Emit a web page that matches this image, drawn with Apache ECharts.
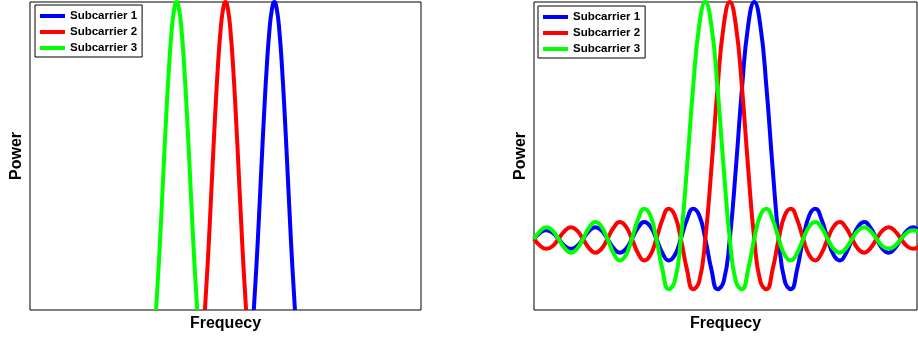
<!DOCTYPE html>
<html>
<head>
<meta charset="utf-8">
<script src="https://cdn.jsdelivr.net/npm/echarts@6/dist/echarts.min.js"></script>
<style>
  html, body { margin: 0; padding: 0; background: #fff; }
  #chart { width: 918px; height: 340px; }
</style>
</head>
<body>
<div id="chart"></div>
<script>
// Left panel: separated subcarriers (main lobes only)
const leftFreq1 = [10.875, 11, 11.125, 11.25, 11.375, 11.5, 11.625, 11.75, 11.875, 12, 12.125, 12.25, 12.375, 12.5, 12.625, 12.75, 12.875];
const leftFreq2 = [8.5, 8.625, 8.75, 8.875, 9, 9.125, 9.25, 9.375, 9.5, 9.625, 9.75, 9.875, 10, 10.125, 10.25, 10.375, 10.5];
const leftFreq3 = [6.125, 6.25, 6.375, 6.5, 6.625, 6.75, 6.875, 7, 7.125, 7.25, 7.375, 7.5, 7.625, 7.75, 7.875, 8, 8.125];
const leftPower1 = [0, 0.139, 0.300, 0.471, 0.637, 0.784, 0.900, 0.974, 1, 0.974, 0.900, 0.784, 0.637, 0.471, 0.300, 0.139, 0];
const leftPower2 = [0, 0.139, 0.300, 0.471, 0.637, 0.784, 0.900, 0.974, 1, 0.974, 0.900, 0.784, 0.637, 0.471, 0.300, 0.139, 0];
const leftPower3 = [0, 0.139, 0.300, 0.471, 0.637, 0.784, 0.900, 0.974, 1, 0.974, 0.900, 0.784, 0.637, 0.471, 0.300, 0.139, 0];

// Right panel: overlapping (orthogonal) subcarriers with side lobes
const rightFreq = [0, 0.25, 0.5, 0.75, 1, 1.25, 1.5, 1.75, 2, 2.25, 2.5, 2.75, 3, 3.25, 3.5, 3.75,
  4, 4.25, 4.5, 4.75, 5, 5.25, 5.5, 5.75, 6, 6.25, 6.5, 6.75, 7, 7.25, 7.5, 7.75,
  8, 8.25, 8.5, 8.75, 9, 9.25, 9.5, 9.75, 10, 10.25, 10.5, 10.75, 11, 11.25, 11.5, 11.75,
  12, 12.25, 12.5, 12.75, 13, 13.25, 13.5, 13.75, 14, 14.25, 14.5, 14.75, 15, 15.25, 15.5, 15.75];
const rightPower1 = [0, 0.026, 0.037, 0.027, 0, -0.029, -0.042, -0.031, 0, 0.033, 0.049, 0.036,
  0, -0.039, -0.058, -0.043, 0, 0.047, 0.071, 0.053, 0, -0.060, -0.091, -0.069,
  0, 0.082, 0.127, 0.100, 0, -0.129, -0.212, -0.180, 0, 0.300, 0.637, 0.900, 1,
  0.900, 0.637, 0.300, 0, -0.180, -0.212, -0.129, 0, 0.100, 0.127, 0.082,
  0, -0.069, -0.091, -0.060, 0, 0.053, 0.071, 0.047, 0, -0.043, -0.058, -0.039,
  0, 0.036, 0.049, 0.033];
const rightPower2 = [0, -0.029, -0.042, -0.031, 0, 0.033, 0.049, 0.036, 0, -0.039, -0.058, -0.043,
  0, 0.047, 0.071, 0.053, 0, -0.060, -0.091, -0.069, 0, 0.082, 0.127, 0.100,
  0, -0.129, -0.212, -0.180, 0, 0.300, 0.637, 0.900, 1,
  0.900, 0.637, 0.300, 0, -0.180, -0.212, -0.129, 0, 0.100, 0.127, 0.082,
  0, -0.069, -0.091, -0.060, 0, 0.053, 0.071, 0.047, 0, -0.043, -0.058, -0.039,
  0, 0.036, 0.049, 0.033, 0, -0.031, -0.042, -0.029];
const rightPower3 = [0, 0.033, 0.049, 0.036, 0, -0.039, -0.058, -0.043, 0, 0.047, 0.071, 0.053,
  0, -0.060, -0.091, -0.069, 0, 0.082, 0.127, 0.100, 0, -0.129, -0.212, -0.180,
  0, 0.300, 0.637, 0.900, 1,
  0.900, 0.637, 0.300, 0, -0.180, -0.212, -0.129, 0, 0.100, 0.127, 0.082,
  0, -0.069, -0.091, -0.060, 0, 0.053, 0.071, 0.047, 0, -0.043, -0.058, -0.039,
  0, 0.036, 0.049, 0.033, 0, -0.031, -0.042, -0.029, 0, 0.027, 0.037, 0.026];

const seriesNames = ['Subcarrier 1', 'Subcarrier 2', 'Subcarrier 3'];
const seriesColors = ['#0000ff', '#ff0000', '#00ff00'];
const xLabel = 'Frequecy';
const yLabel = 'Power';

const FONT = '"Liberation Sans", Arial, Helvetica, sans-serif';

function pairs(xs, ys) {
  return xs.map((x, i) => [x, ys[i]]);
}

function lineSeries(name, color, gridIdx, data) {
  return {
    type: 'line',
    name: name,
    xAxisIndex: gridIdx,
    yAxisIndex: gridIdx,
    data: data,
    smooth: true,
    showSymbol: false,
    symbol: 'none',
    clip: true,
    animation: false,
    itemStyle: { color: color },
    lineStyle: { color: color, width: 4 }
  };
}

function xAxisFor(gridIdx, max) {
  return {
    type: 'value', gridIndex: gridIdx, min: 0, max: max,
    axisLine: { show: false }, axisTick: { show: false },
    axisLabel: { show: false }, splitLine: { show: false },
    name: xLabel, nameLocation: 'middle', nameGap: 6,
    nameTextStyle: { fontFamily: FONT, fontWeight: 'bold', fontSize: 16, color: '#000' }
  };
}

function yAxisFor(gridIdx, min, max) {
  return {
    type: 'value', gridIndex: gridIdx, min: min, max: max,
    axisLine: { show: false }, axisTick: { show: false },
    axisLabel: { show: false }, splitLine: { show: false },
    name: yLabel, nameLocation: 'middle', nameGap: 5,
    nameTextStyle: { fontFamily: FONT, fontWeight: 'bold', fontSize: 16, color: '#000' }
  };
}

function legendAt(left, top) {
  return {
    orient: 'vertical', left: left, top: top,
    data: seriesNames,
    icon: 'rect', itemWidth: 25, itemHeight: 4, itemGap: 2,
    padding: [4, 5, 2, 5],
    borderColor: '#000', borderWidth: 1, backgroundColor: '#fff',
    selectedMode: false,
    textStyle: { fontFamily: FONT, fontWeight: 'bold', fontSize: 11.5, color: '#000', lineHeight: 14 }
  };
}

const chart = echarts.init(document.getElementById('chart'), null, { renderer: 'canvas' });
chart.setOption({
  animation: false,
  backgroundColor: '#fff',
  grid: [
    { left: 30, top: 2, width: 391, height: 308, show: true, borderColor: '#000', borderWidth: 1, backgroundColor: 'transparent', outerBoundsMode: 'none' },
    { left: 534, top: 2, width: 383, height: 308, show: true, borderColor: '#000', borderWidth: 1, backgroundColor: 'transparent', outerBoundsMode: 'none' }
  ],
  xAxis: [xAxisFor(0, 19), xAxisFor(1, 15.65)],
  yAxis: [yAxisFor(0, 0, 1), yAxisFor(1, -0.3, 1)],
  legend: [legendAt(35, 5), legendAt(538, 6)],
  series: [
    lineSeries(seriesNames[0], seriesColors[0], 0, pairs(leftFreq1, leftPower1)),
    lineSeries(seriesNames[1], seriesColors[1], 0, pairs(leftFreq2, leftPower2)),
    lineSeries(seriesNames[2], seriesColors[2], 0, pairs(leftFreq3, leftPower3)),
    lineSeries(seriesNames[0], seriesColors[0], 1, pairs(rightFreq, rightPower1)),
    lineSeries(seriesNames[1], seriesColors[1], 1, pairs(rightFreq, rightPower2)),
    lineSeries(seriesNames[2], seriesColors[2], 1, pairs(rightFreq, rightPower3))
  ]
});
</script>
</body>
</html>
